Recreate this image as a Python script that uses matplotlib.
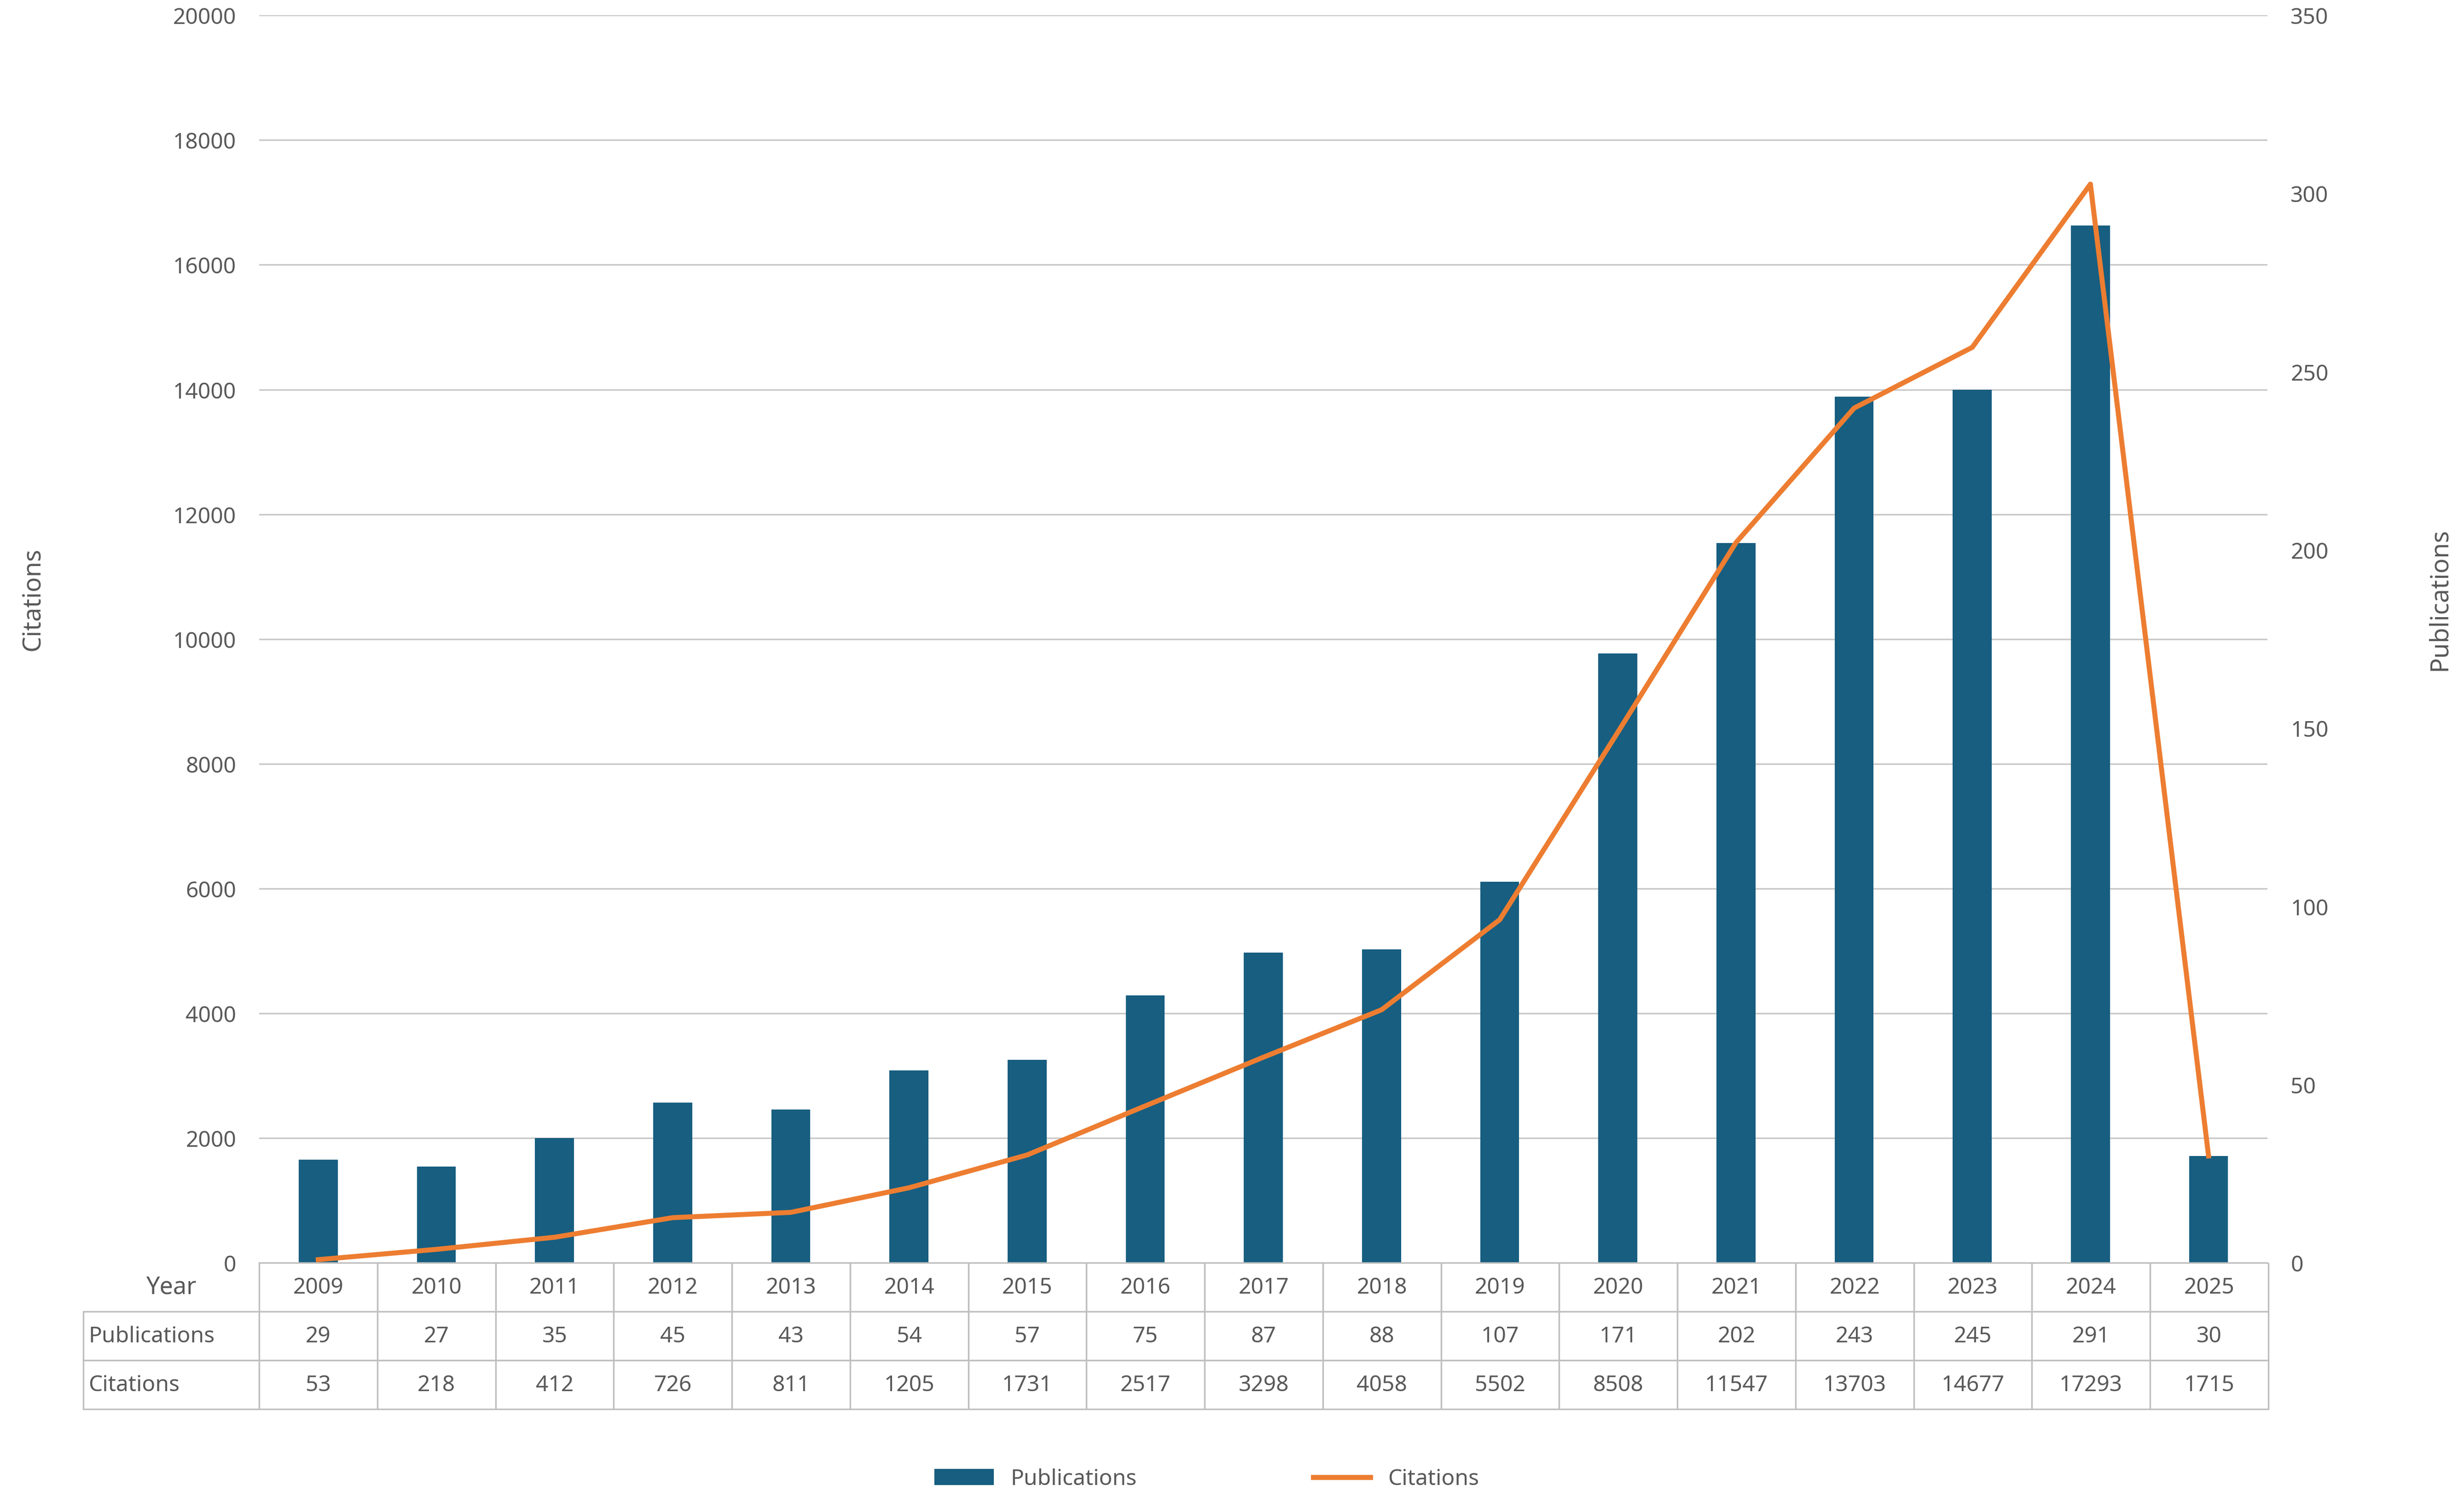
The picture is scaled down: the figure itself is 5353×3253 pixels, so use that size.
import matplotlib.pyplot as plt
import numpy as np

years = [2009, 2010, 2011, 2012, 2013, 2014, 2015, 2016, 2017, 2018, 2019, 2020, 2021, 2022, 2023, 2024, 2025]
publications = [29, 27, 35, 45, 43, 54, 57, 75, 87, 88, 107, 171, 202, 243, 245, 291, 30]
citations = [53, 218, 412, 726, 811, 1205, 1731, 2517, 3298, 4058, 5502, 8508, 11547, 13703, 14677, 17293, 1715]

bar_color = '#175e80'
line_color = '#ed7d31'
grey = '#595959'

plt.rcParams['font.family'] = 'Noto Sans'
fig = plt.figure(figsize=(5353 / 300, 3254 / 300), dpi=300)
ax = fig.add_axes([0.1052, 0.1563, 0.8151, 0.8332])
ax2 = ax.twinx()

x = np.arange(len(years))
ax2.bar(x, publications, width=0.33, color=bar_color, zorder=2)
ax.plot(x, citations, color=line_color, lw=2.6, zorder=3)
ax.set_zorder(ax2.get_zorder() + 1)
ax.patch.set_visible(False)

ax.set_xlim(-0.5, len(years) - 0.5)
ax.set_ylim(0, 20000)
ax.set_yticks(np.arange(0, 20001, 2000))
ax2.set_ylim(0, 350)
ax2.set_yticks(np.arange(0, 351, 50))
ax2.yaxis.grid(False)
ax2.set_axisbelow(True)
ax.set_xticks([])
for a in (ax, ax2):
    for s in a.spines.values():
        s.set_visible(False)
    a.tick_params(axis='y', length=0, labelsize=11.5, colors=grey, pad=12)
ax.spines['bottom'].set_visible(True)
ax.spines['bottom'].set_color('#bfbfbf')
# gridlines on ax2 behind bars
for v in np.arange(2000, 20001, 2000):
    ax2.axhline(v * 350 / 20000, color='#c8c8c8', lw=0.8, zorder=0)

fig.text(0.008, 0.60, 'Citations', rotation=90, fontsize=13, fontweight='bold', color=grey, va='center')
fig.text(0.985, 0.60, 'Publications', rotation=90, fontsize=13, fontweight='bold', color=grey, va='center')

cell_text = [['Year'] + [str(y) for y in years],
             ['Publications'] + [str(p) for p in publications],
             ['Citations'] + [str(c) for c in citations]]
widths = [112] + [75.2] * len(years)
tot = sum(widths)
tbl = ax.table(cellText=cell_text, colWidths=[w / tot for w in widths],
               bbox=[-112 / 1278, -93 / 794, tot / 1278, 93 / 794], cellLoc='center')
tbl.auto_set_font_size(False)
for (r, c), cell in tbl.get_celld().items():
    cell.set_edgecolor('#bfbfbf')
    cell.set_linewidth(0.8)
    cell.get_text().set_fontsize(11.5)
    cell.get_text().set_color(grey)
    if r == 0 and c == 0:
        cell.visible_edges = 'B'
        cell.get_text().set_fontweight('bold')
        cell.get_text().set_fontsize(12.5)
    elif r == 0:
        cell.visible_edges = 'BLR'
    if c == 0 and r > 0:
        cell.get_text().set_ha('left')
        cell._loc = 'left'
        cell.PAD = 0.03

from matplotlib.patches import Patch
from matplotlib.lines import Line2D
handles = [Patch(color=bar_color), Line2D([0], [0], color=line_color, lw=2.6)]
fig.legend(handles, ['Publications', 'Citations'], loc='center', bbox_to_anchor=(0.49, 0.012),
           ncol=2, frameon=False, fontsize=11.5, columnspacing=8, handlelength=2.6,
           handleheight=0.6, labelcolor=grey)

fig.savefig('out.png', dpi=300)
